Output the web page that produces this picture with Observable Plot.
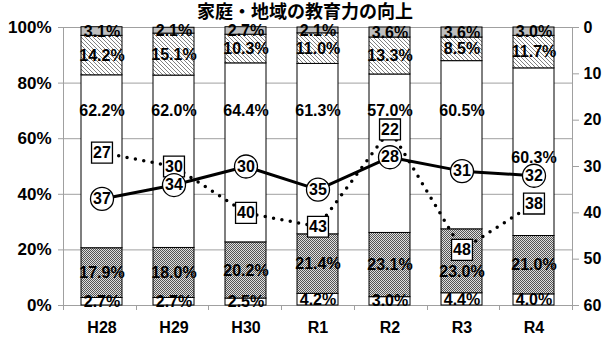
<!DOCTYPE html>
<html>
<head>
<meta charset="utf-8">
<script src="https://cdn.jsdelivr.net/npm/d3@7"></script>
<script src="https://cdn.jsdelivr.net/npm/@observablehq/plot@0.6"></script>
<style>
  html, body { margin: 0; padding: 0; background: #fff; }
  #wrap { position: relative; width: 610px; height: 347px; overflow: hidden; }
  #wrap svg { position: absolute; left: 0; top: 0; }
  #title { position: absolute; left: 0; top: 0; width: 610px; text-align: center;
           font: bold 18px "Noto Sans CJK JP", sans-serif; line-height: 20px; color: #000; z-index: 3; }
  g[aria-label="y-axis tick"], g[aria-label="x-axis tick"] { color: #a0a0a0; }
</style>
</head>
<body>
<div id="wrap"><div id="title">家庭・地域の教育力の向上</div></div>
<script>
// ---- data ----
const years = ["H28", "H29", "H30", "R1", "R2", "R3", "R4"];
const segBottom = [2.7, 2.7, 2.5, 4.2, 3.0, 4.4, 4.0];        // white (bottom)
const segDotted = [17.9, 18.0, 20.2, 21.4, 23.1, 23.0, 21.0]; // dotted
const segWhite  = [62.2, 62.0, 64.4, 61.3, 57.0, 60.5, 60.3]; // white (middle)
const segHatch  = [14.2, 15.1, 10.3, 11.0, 13.3, 8.5, 11.7];  // hatched
const segGray   = [3.1, 2.1, 2.7, 2.1, 3.6, 3.6, 3.0];        // gray (top)
const rankCircle = [37, 34, 30, 35, 28, 31, 32];
const rankSquare = [27, 30, 40, 43, 22, 48, 38];
const leftTicks = [0, 20, 40, 60, 80, 100];
const rightTicks = [0, 10, 20, 30, 40, 50, 60];

// ---- layout ----
const W = 610, H = 347, MT = 27, MB = 42, ML = 63, MR = 38;
const PI = 0.436, PO = 0.218;
const FONT = "'Liberation Sans', Arial, sans-serif";
const GRAY = "#a0a0a0";
const whiteLabelLevel = 70;              // white-segment labels lifted to this level
const labelNudgePx = {"R4|white": 6, "R3|dotted": 11};

const segNames = ["bottom", "dotted", "white", "hatch", "gray"];
const segArrays = [segBottom, segDotted, segWhite, segHatch, segGray];
const segFills = ["white", "url(#patDots)", "white", "url(#patHatch)", "#bfbfbf"];

const barRows = [];
segNames.forEach((s, k) => years.forEach((y, i) => barRows.push({year: y, seg: s, value: segArrays[k][i]})));

const pxToVal = 100 / (H - MT - MB);
const labelRows = [];
years.forEach((y, i) => {
  let cum = 0;
  segNames.forEach((s, k) => {
    const v = segArrays[k][i];
    let ly = cum + v / 2;
    if (s === "white" && y !== "R4") ly = whiteLabelLevel;
    const n = labelNudgePx[y + "|" + s] || 0;
    ly -= n * pxToVal;
    labelRows.push({year: y, y: ly, text: v.toFixed(1) + "%"});
    cum += v;
  });
});

const circleRows = years.map((y, i) => ({year: y, rank: rankCircle[i]}));
const squareRows = years.map((y, i) => ({year: y, rank: rankSquare[i]}));

const xScale = {type: "band", domain: years, paddingInner: PI, paddingOuter: PO};

const bars = Plot.plot({
  width: W, height: H, marginTop: MT, marginBottom: MB, marginLeft: ML, marginRight: MR,
  style: {fontFamily: FONT, background: "transparent"},
  x: {...xScale, label: null},
  y: {domain: [0, 100], label: null},
  color: {domain: segNames, range: segFills},
  marks: [
    Plot.gridY(leftTicks, {stroke: GRAY, strokeOpacity: 1}),
    Plot.barY(barRows, {x: "year", y: "value", fill: "seg", stroke: "black", strokeWidth: 1}),
    Plot.text(labelRows, {x: "year", y: "y", text: "text", fontSize: 16, fontWeight: "bold", fill: "black"}),
    Plot.axisY(leftTicks, {tickFormat: d => d + "%", tickSize: 5, tickPadding: 7, fontSize: 17, fontWeight: "bold", label: null}),
    Plot.axisX({tickSize: 0, tickPadding: 16, fontSize: 16, fontWeight: "bold", label: null})
  ]
});

// patterns
const svg1 = d3.select(bars);
const defs = svg1.insert("defs", ":first-child");
const pd = defs.append("pattern").attr("id", "patDots").attr("patternUnits", "userSpaceOnUse").attr("width", 2).attr("height", 2);
pd.append("rect").attr("width", 2).attr("height", 2).attr("fill", "#e0e0e0");
pd.append("rect").attr("x", 0).attr("y", 0).attr("width", 1).attr("height", 1).attr("fill", "#555");
pd.append("rect").attr("x", 1).attr("y", 1).attr("width", 1).attr("height", 1).attr("fill", "#555");
const ph = defs.append("pattern").attr("id", "patHatch").attr("patternUnits", "userSpaceOnUse").attr("width", 4).attr("height", 4);
ph.append("rect").attr("width", 4).attr("height", 4).attr("fill", "white");
ph.append("path").attr("d", "M-1,-1L5,5M-1,3L1,5M3,-1L5,1").attr("stroke", "#808080").attr("stroke-width", 1);

// axis frame lines (left axis, x-axis ticks at band boundaries)
const step = (W - ML - MR) / years.length;
const axG = svg1.append("g").attr("stroke", GRAY).attr("stroke-width", 1);
axG.append("line").attr("x1", ML + 0.5).attr("x2", ML + 0.5).attr("y1", MT).attr("y2", H - MB);
for (let i = 0; i <= years.length; i++) {
  const xx = Math.round(ML + i * step) + 0.5;
  axG.append("line").attr("x1", xx).attr("x2", xx).attr("y1", H - MB).attr("y2", H - MB + 5);
}

const lines = Plot.plot({
  width: W, height: H, marginTop: MT, marginBottom: MB, marginLeft: ML, marginRight: MR,
  style: {fontFamily: FONT, background: "transparent"},
  x: {...xScale, axis: null},
  y: {domain: [0, 60], reverse: true, label: null},
  marks: [
    Plot.lineY(squareRows, {x: "year", y: "rank", stroke: "black", strokeWidth: 3.5, strokeDasharray: "0 8.5", strokeLinecap: "round"}),
    Plot.lineY(circleRows, {x: "year", y: "rank", stroke: "black", strokeWidth: 3}),
    Plot.dot(squareRows, {x: "year", y: "rank", symbol: "square", r: 11.8, fill: "white", stroke: "black", strokeWidth: 1.3}),
    Plot.dot(circleRows, {x: "year", y: "rank", symbol: "circle", r: 11.5, fill: "white", stroke: "black", strokeWidth: 1.3}),
    Plot.text(squareRows, {x: "year", y: "rank", text: d => String(d.rank), fontSize: 16, fontWeight: "bold", fill: "black"}),
    Plot.text(circleRows, {x: "year", y: "rank", text: d => String(d.rank), fontSize: 16, fontWeight: "bold", fill: "black"}),
    Plot.axisY(rightTicks, {anchor: "right", tickSize: 6, tickPadding: 5, fontSize: 16, fontWeight: "bold", label: null})
  ]
});
const svg2 = d3.select(lines);
svg2.append("line").attr("x1", W - MR + 0.5).attr("x2", W - MR + 0.5).attr("y1", MT).attr("y2", H - MB)
  .attr("stroke", GRAY).attr("stroke-width", 1);

const wrap = document.getElementById("wrap");
wrap.appendChild(bars);
wrap.appendChild(lines);
</script>
</body>
</html>
